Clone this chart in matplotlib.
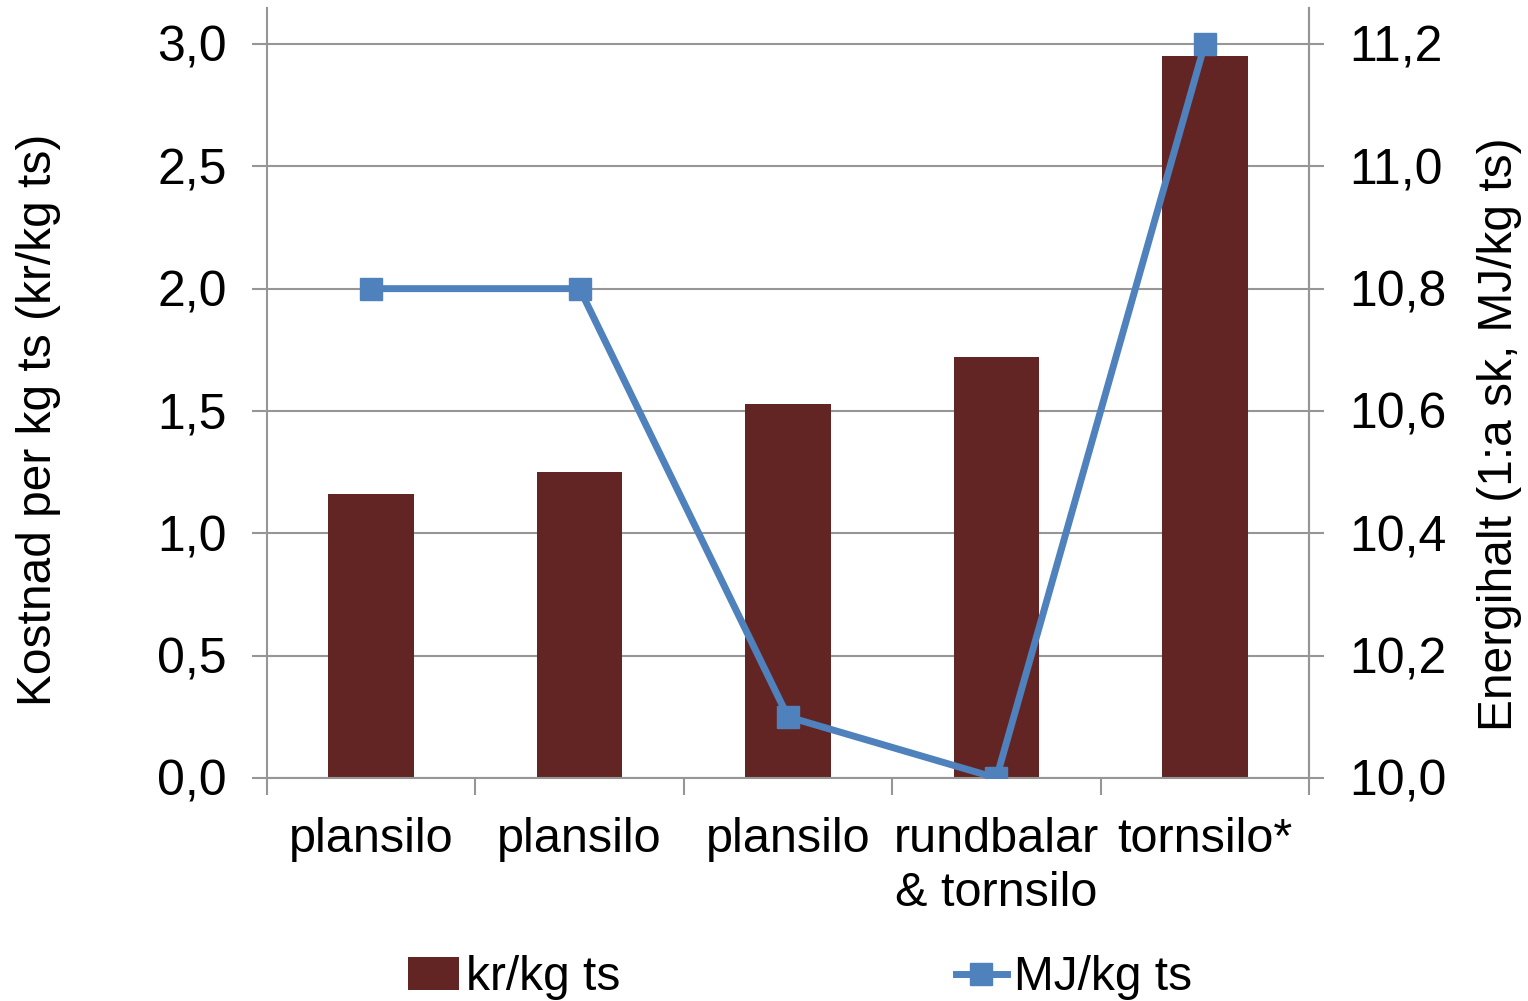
import matplotlib.pyplot as plt
import numpy as np

plt.rcParams['font.family'] = ['Liberation Sans', 'DejaVu Sans']

kategorier = ['plansilo', 'plansilo', 'plansilo', 'rundbalar\n& tornsilo', 'tornsilo*']
kostnad = [1.16, 1.25, 1.53, 1.72, 2.95]
energi = [10.8, 10.8, 10.1, 10.0, 11.2]
y1_ticks = [0.0, 0.5, 1.0, 1.5, 2.0, 2.5, 3.0]
y2_ticks = [10.0, 10.2, 10.4, 10.6, 10.8, 11.0, 11.2]

bar_farg = '#632523'
linje_farg = '#4F81BD'
grid_farg = '#969696'

fig = plt.figure(figsize=(15.28, 10.01), dpi=100)
ax = fig.add_axes([0.1747, 0.2228, 0.682, 0.7692])
x = np.arange(len(kategorier))

staplar = ax.bar(x, kostnad, width=0.41, color=bar_farg, zorder=2, label='kr/kg ts')
ax.set_xlim(-0.5, len(kategorier) - 0.5)
ax.set_ylim(0, 3.147)
ax.set_yticks(y1_ticks)
ax.set_yticklabels([f'{v:.1f}'.replace('.', ',') for v in y1_ticks])
ax.grid(axis='y', color=grid_farg, linewidth=1.5, zorder=0)
ax.set_axisbelow(True)
ax.set_xticks(x)
ax.set_xticklabels(kategorier, linespacing=1.25)
ax.set_xticks(np.arange(len(kategorier) + 1) - 0.5, minor=True)
ax.tick_params(axis='x', which='major', length=0, pad=28, labelsize=35)
ax.tick_params(axis='x', which='minor', length=12, width=1.5, color=grid_farg, direction='out')
ax.tick_params(axis='y', length=11, width=1.5, color=grid_farg, labelsize=36, pad=18)
ax.set_ylabel('Kostnad per kg ts (kr/kg ts)', fontsize=34.5, va='center')
ax.yaxis.set_label_coords(-0.2188, 0.465)
for s in ['top']:
    ax.spines[s].set_visible(False)
for s in ['left', 'bottom', 'right']:
    ax.spines[s].set_color(grid_farg)
    ax.spines[s].set_linewidth(1.5)

ax2 = ax.twinx()
linje, = ax2.plot(x, energi, color=linje_farg, linewidth=5, marker='s', markersize=16,
                  label='MJ/kg ts', zorder=3)
ax2.set_ylim(10.0, 10.0 + 1.2 * 3.147 / 3.0)
ax2.set_yticks(y2_ticks)
ax2.set_yticklabels([f'{v:.1f}'.replace('.', ',') for v in y2_ticks])
ax2.tick_params(axis='y', length=11, width=1.5, color=grid_farg, labelsize=36, pad=18)
ax2.set_ylabel('Energihalt (1:a sk, MJ/kg ts)', fontsize=34.5, va='center')
ax2.yaxis.set_label_coords(1.1823, 0.447)
for s in ['top', 'left', 'bottom']:
    ax2.spines[s].set_visible(False)
ax2.spines['right'].set_color(grid_farg)
ax2.spines['right'].set_linewidth(1.5)

fig.legend([staplar, linje], ['kr/kg ts', 'MJ/kg ts'], loc='center', ncol=2,
           bbox_to_anchor=(0.5235, 0.023), frameon=False, fontsize=34.5,
           columnspacing=7.0, handlelength=1.06, handletextpad=0.15)

fig.savefig('out.png', dpi=100)
